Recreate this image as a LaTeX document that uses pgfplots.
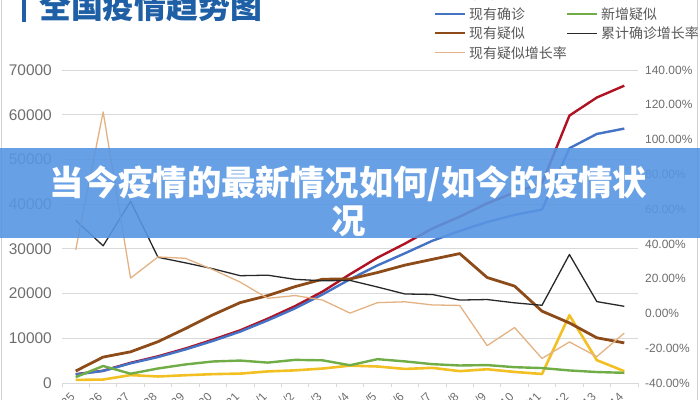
\documentclass[border=0pt]{standalone}
\usepackage{pgfplots}
\pgfplotsset{compat=1.18}
\usepackage{pgfplotstable}
\usepackage{fontspec}
\setmainfont{Liberation Sans}
\newfontfamily\cjk{Noto Sans CJK SC}

\definecolor{cBlue}{RGB}{68,114,196}
\definecolor{cRed}{RGB}{175,18,35}
\definecolor{cBrown}{RGB}{140,75,25}
\definecolor{cGreen}{RGB}{112,173,71}
\definecolor{cYellow}{RGB}{242,192,35}
\definecolor{cBlack}{RGB}{40,40,40}
\definecolor{cTan}{RGB}{228,178,130}
\definecolor{cGrid}{RGB}{217,217,217}
\definecolor{cTick}{RGB}{110,110,110}
\definecolor{cLeg}{RGB}{89,89,89}
\definecolor{cTitle}{RGB}{30,95,165}
\definecolor{cBanner}{RGB}{88,150,226}

\pgfplotstableread{
i cum cur newc newsus sus gcum gsus
0 1975 1900 688 1309 2684 53.5 36.6
1 2744 2700 769 3806 5794 38.9 115.9
2 4515 4400 1771 2077 6973 64.5 20.3
3 5974 5800 1459 3248 9239 32.3 32.5
4 7711 7500 1737 4148 12167 29.1 31.7
5 9692 9400 1982 4812 15238 25.7 25.2
6 11791 11500 2102 5019 17988 21.7 18.0
7 14380 14000 2590 4562 19544 22.0 8.7
8 17205 16700 2829 5173 21558 19.6 10.3
9 20438 19800 3235 5072 23214 18.8 7.7
10 24324 23200 3887 3971 23260 19.0 0.2
11 28018 26300 3694 5328 24702 15.2 6.2
12 31161 29000 3143 4833 26359 11.2 6.7
13 34546 31800 3385 4214 27657 10.9 4.9
14 37198 34000 2652 3916 28942 7.7 4.6
15 40171 36000 3073 4008 23589 8.0 -18.5
16 42638 37600 2478 3536 21675 6.1 -8.1
17 44653 38800 2015 3342 16067 4.7 -25.9
18 59804 52500 15152 2807 13435 33.9 -16.4
19 63851 55700 5090 2450 10109 6.8 -24.8
20 66492 56900 2641 2277 8969 4.1 -11.3
}\data

\begin{document}
\begin{tikzpicture}
% left axis: counts
\begin{axis}[
  at={(62bp,17bp)}, anchor=south west, scale only axis,
  width=576bp, height=313bp,
  xmin=-0.5, xmax=20.5, ymin=0, ymax=70000,
  axis line style={draw=none},
  ytick={0,10000,...,70000},
  ymajorgrids, grid style={cGrid, line width=0.9bp},
  scaled y ticks=false,
  /pgf/number format/1000 sep={},
  /pgf/number format/assume math mode=true,
  major tick length=0pt,
  xtick={0,...,20},
  xticklabels={1/25,1/26,1/27,1/28,1/29,1/30,1/31,2/1,2/2,2/3,2/4,2/5,2/6,2/7,2/8,2/9,2/10,2/11,2/12,2/13,2/14},
  minor xtick={-0.5,0.5,...,20.5},
  minor tick length=4bp, tick align=outside,
  minor tick style={cGrid, line width=0.9bp},
  xtick pos=left, ytick pos=left,
  yticklabel style={font=\fontsize{15.5}{16}\selectfont, text=cTick, anchor=east, inner sep=0pt, xshift=-10bp},
  xticklabel style={font=\fontsize{12}{12}\selectfont, text=cTick, inner sep=0pt, yshift=-11.5bp, xshift=-3bp, rotate=45, anchor=east},
  no markers, line join=round,
]
\addplot[cRed, line width=2.4bp] table[x=i,y=cum] {\data};
\addplot[cYellow, line width=2.6bp] table[x=i,y=newc] {\data};
\addplot[cBlue, line width=2.4bp] table[x=i,y=cur] {\data};
\addplot[cGreen, line width=2.4bp] table[x=i,y=newsus] {\data};
\addplot[cBrown, line width=2.8bp] table[x=i,y=sus] {\data};
\end{axis}
% right axis: growth rates
\begin{axis}[
  at={(62bp,17bp)}, anchor=south west, scale only axis,
  width=576bp, height=313bp,
  xmin=-0.5, xmax=20.5, ymin=-40, ymax=140,
  axis x line=none, axis y line*=right,
  axis line style={draw=none},
  major tick length=0pt,
  ytick={-40,-20,...,140},
  yticklabel={\pgfmathprintnumber[fixed,fixed zerofill,precision=2,assume math mode=true]{\tick}\%},
  yticklabel style={font=\fontsize{12}{12}\selectfont, text=cTick, anchor=west, inner sep=0pt, xshift=7bp},
  no markers, line join=round,
]
\addplot[cBlack, line width=1.3bp] table[x=i,y=gcum] {\data};
\addplot[cTan, line width=1.3bp] table[x=i,y=gsus] {\data};
\end{axis}

% frame lines of the screenshot
\draw[gray!35, line width=1bp] (1.5bp,0bp) -- (1.5bp,400bp);
\draw[gray!35, line width=1bp] (697bp,0bp) -- (697bp,400bp);

% title
\fill[cTitle] (22bp,378bp) rectangle (26bp,402bp);
\node[anchor=base west, inner sep=0pt, text=cTitle, font=\cjk\bfseries\fontsize{32}{34}\selectfont] at (39bp,381bp) {全国疫情趋势图};

% legend
\begin{scope}[every node/.style={anchor=west, inner sep=0pt, text=cLeg, font=\cjk\fontsize{14}{15}\selectfont}]
\draw[cRed, line width=2.4bp] (435bp,405.5bp) -- (465bp,405.5bp);
\node at (469bp,405.5bp) {累计确诊};
\draw[cYellow, line width=2.4bp] (567bp,405.5bp) -- (597bp,405.5bp);
\node at (601bp,405.5bp) {新增确诊};
\draw[cBlue, line width=2.4bp] (435bp,386bp) -- (465bp,386bp);
\node at (469bp,386bp) {现有确诊};
\draw[cGreen, line width=2.4bp] (567bp,386bp) -- (597bp,386bp);
\node at (601bp,386bp) {新增疑似};
\draw[cBrown, line width=2.4bp] (435bp,366.7bp) -- (465bp,366.7bp);
\node at (469bp,366.7bp) {现有疑似};
\draw[cBlack, line width=1.2bp] (567bp,366.7bp) -- (597bp,366.7bp);
\node at (601bp,366.7bp) {累计确诊增长率};
\draw[cTan, line width=1.2bp] (435bp,347.3bp) -- (465bp,347.3bp);
\node at (469bp,347.3bp) {现有疑似增长率};
\end{scope}

% banner overlay
\fill[cBanner, opacity=0.9] (0bp,162bp) rectangle (700bp,252bp);
\node[text=white, inner sep=0pt, font=\cjk\bfseries\fontsize{34.5}{38}\selectfont] at (348.5bp,216bp) {当今疫情的最新情况如何/如今的疫情状};
\node[text=white, inner sep=0pt, font=\cjk\bfseries\fontsize{34.5}{38}\selectfont] at (349bp,179bp) {况};

\pgfresetboundingbox
\useasboundingbox (0bp,0bp) rectangle (700bp,400bp);
\end{tikzpicture}
\end{document}
